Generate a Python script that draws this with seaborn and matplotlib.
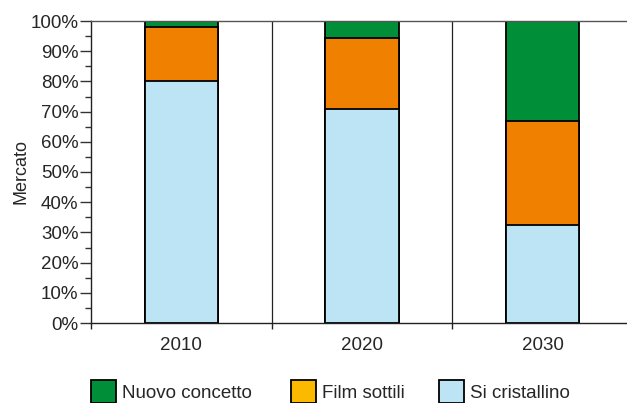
import matplotlib
matplotlib.use("Agg")
import matplotlib.pyplot as plt
from matplotlib.patches import Patch
from matplotlib.ticker import MultipleLocator, FuncFormatter, FixedLocator
import numpy as np
import pandas as pd
import seaborn as sns

# Market share by technology (%)
years = ["2010", "2020", "2030"]
si_cristallino = [80.0, 71.0, 32.5]
film_sottili = [18.0, 23.5, 34.5]
nuovo_concetto = [2.0, 5.5, 33.0]

series_names = ["Nuovo concetto", "Film sottili", "Si cristallino"]
bar_colors = {"Nuovo concetto": "#008F38", "Film sottili": "#EF8000", "Si cristallino": "#BDE4F5"}
legend_colors = {"Nuovo concetto": "#008F38", "Film sottili": "#FBBA00", "Si cristallino": "#BDE4F5"}

FS = 13.5

sns.set_style("white")
plt.rcParams["font.family"] = ["Liberation Sans", "DejaVu Sans"]
plt.rcParams["font.size"] = FS

fig = plt.figure(figsize=(6.27, 4.03), dpi=100)
W, H = 627, 403
ax = fig.add_axes([91 / W, 1 - 323 / H, (627 - 91) / W, (323 - 21) / H])

# cumulative stack heights, drawn from the top layer down
si = np.array(si_cristallino)
film_top = si + np.array(film_sottili)
total = film_top + np.array(nuovo_concetto)
layers = [("Nuovo concetto", total), ("Film sottili", film_top), ("Si cristallino", si)]

for name, heights in layers:
    df = pd.DataFrame({"anno": years, "quota": heights})
    sns.barplot(data=df, x="anno", y="quota", order=years, color=bar_colors[name],
                saturation=1, width=0.405, edgecolor="black", linewidth=1.3, ax=ax)

ax.set_ylim(0, 100)
ax.set_xlim(-0.5, 2.5 - 6 / 181)

# y axis: major every 10 %, minor every 5 %
ax.yaxis.set_major_locator(MultipleLocator(10))
ax.yaxis.set_minor_locator(MultipleLocator(5))
ax.yaxis.set_major_formatter(FuncFormatter(lambda v, p: f"{int(v)}%"))
ax.tick_params(axis="y", which="major", direction="out", length=8, width=1, color="#333333",
               labelsize=FS, pad=1, left=True)
ax.tick_params(axis="y", which="minor", direction="out", length=4, width=1, color="#333333", left=True)

# x axis: separators between categories
ax.xaxis.set_minor_locator(FixedLocator([-0.5, 0.5, 1.5]))
ax.tick_params(axis="x", which="major", length=0, labelsize=FS, pad=10)
ax.tick_params(axis="x", which="minor", direction="out", length=4, width=1, color="#222222", bottom=True)
for xb in [0.5, 1.5]:
    ax.axvline(xb, color="#222222", linewidth=0.9, zorder=0)

for side in ["left", "bottom", "top"]:
    ax.spines[side].set_visible(True)
    ax.spines[side].set_color("#222222")
    ax.spines[side].set_linewidth(1.0)
ax.spines["top"].set_color("#555555")
ax.spines["right"].set_visible(False)

ax.set_xlabel("")
ax.set_ylabel("Mercato", fontsize=FS - 0.5, labelpad=1)

# one legend entry per position along the bottom
legend_x = [91, 291, 439]
for name, xpx in zip(series_names, legend_x):
    h = Patch(facecolor=legend_colors[name], edgecolor="black", linewidth=1.3, label=name)
    fig.legend(handles=[h], loc="upper left", bbox_to_anchor=(xpx / W, 1 - 380 / H),
               frameon=False, fontsize=FS, handlelength=1.33, handleheight=1.5,
               handletextpad=0.3, borderpad=0, borderaxespad=0)

fig.savefig("out.png", dpi=100)
